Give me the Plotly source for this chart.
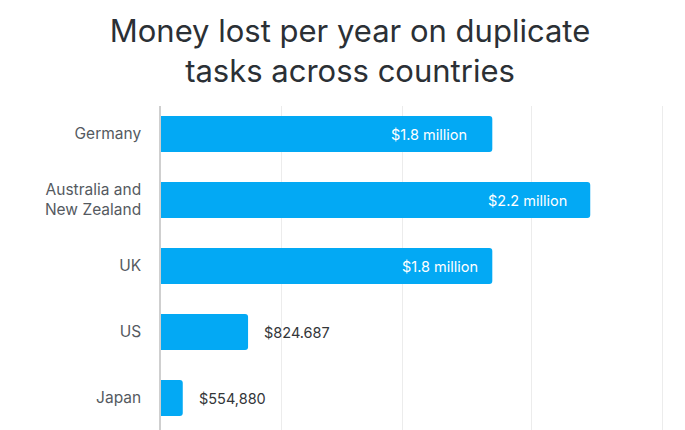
import plotly.graph_objects as go

# Data (bar lengths, in gridline units; labels as printed)
countries = ["Germany", "Australia and<br>New Zealand", "UK", "US", "Japan"]
bar_lengths = [2.74, 3.55, 2.74, 0.72, 0.18]
value_labels = ["$1.8 million", "$2.2 million", "$1.8 million", "$824.687", "$554,880"]
grid_positions = [0, 1, 2, 3.06, 4.15]

# Styles
label_shift_inside = [-23, -21, -12, 0, 0]
BAR_COLOR = "#03A9F4"
FONT = "Inter"
W, H = 677, 422  # page body has an 8px margin

fig = go.Figure()
fig.add_trace(go.Bar(
    x=bar_lengths,
    y=countries,
    orientation="h",
    marker=dict(color=BAR_COLOR, line=dict(width=0), cornerradius=3),
    width=0.545,
    hoverinfo="skip",
))

annotations = []
for i, (c, v, lab) in enumerate(zip(countries, bar_lengths, value_labels)):
    inside = v > 1.5
    annotations.append(dict(
        x=v, y=c, xref="x", yref="y",
        text=lab, showarrow=False,
        xanchor="right" if inside else "left",
        xshift=label_shift_inside[i] if inside else 14,
        yshift=-1,
        font=dict(family=FONT, size=14.5, color="#ffffff" if inside else "#333639"),
    ))

fig.update_layout(
    width=W, height=H,
    margin=dict(l=153, r=21, t=98, b=0, autoexpand=False),
    paper_bgcolor="white", plot_bgcolor="white",
    showlegend=False,
    annotations=annotations,
    title=dict(
        text="Money lost per year on duplicate<br>tasks across countries",
        x=(350 - 8) / W, xref="container", xanchor="center",
        y=1 - 34 / H, yref="container", yanchor="top",
        font=dict(family=FONT, size=31, color="#2b3035"),
    ),
    xaxis=dict(
        range=[0, 4.16], tickvals=grid_positions, showticklabels=False,
        showgrid=True, gridcolor="#ececec", gridwidth=1.3,
        zeroline=False, showline=False, fixedrange=True,
    ),
    yaxis=dict(
        type="category", range=[4.485, -0.424], autorange=False,
        showgrid=False, zeroline=False,
        showline=True, linecolor="#cfcfcf", linewidth=1.5,
        ticks="", ticklabelstandoff=15,
        tickfont=dict(family=FONT, size=15.5, color="#555a5f"),
        fixedrange=True,
    ),
)
fig.write_html("out.html")
